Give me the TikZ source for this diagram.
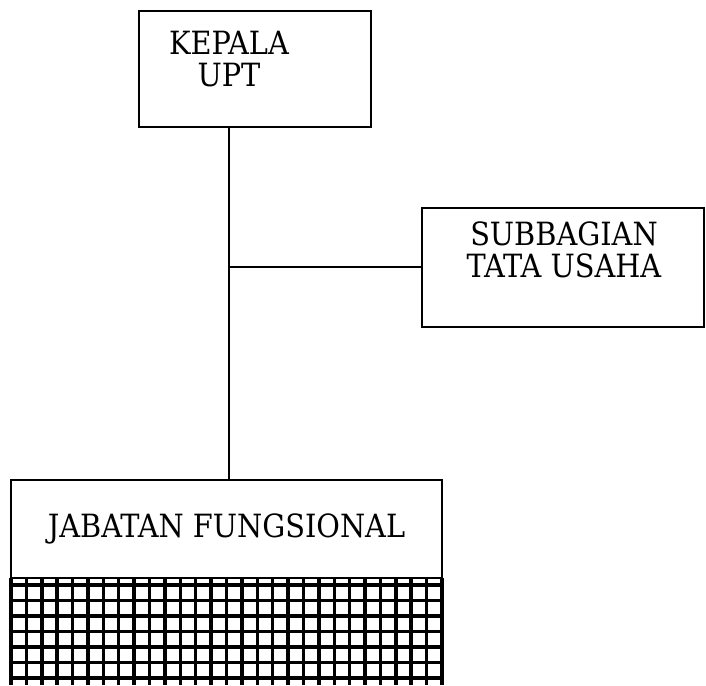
\documentclass[tikz,border=0pt]{standalone}
\usepackage{fontspec}
\setmainfont{DejaVu Serif Condensed}
\usetikzlibrary{positioning}

\begin{document}
\begin{tikzpicture}[x=0.75pt,y=-0.75pt,
                    box/.style={
                        draw,
                        line width=2pt,
                        inner sep=0pt
                    },
                    txt/.style={
                        align=center,
                        inner sep=0pt,
                        font=\fontsize{24}{24}\selectfont
                    },
                    link/.style={
                        line width=2pt
                    },
                    kisi/.style={
                        line width=2.6pt
                    }
                ]
                \useasboundingbox (0,0) rectangle (706,685);

                % Kotak-kotak
                \node[box, minimum width=174pt, minimum height=87pt] (kepala) at (255,69) {};
                \node[txt] (kepalatxt) at (229,59) {KEPALA\\UPT};
                \node[box, minimum width=211.5pt, minimum height=89.25pt] (subbag) at (563,267.5) {};
                \node[txt] (subbagtxt) at (564,250) {SUBBAGIAN\\TATA USAHA};
                \node[box, txt, minimum width=323.25pt, minimum height=73.5pt] (jabatan) at (226.5,529) {JABATAN FUNGSIONAL};

                % Garis
                \coordinate (cabang) at (229,267);
                \draw[link] (kepala.south -| cabang) -- (jabatan.north -| cabang);
                \draw[link] (cabang) -- (subbag.west |- cabang);

                % Arsiran kisi
                \foreach \i in {0,...,28}
                    \draw[kisi] (11+\i*15.393,578) -- (11+\i*15.393,685);
                \foreach \j in {0,...,6}
                    \draw[kisi] (11,585+\j*15.5) -- (442,585+\j*15.5);

            \end{tikzpicture}
\end{document}
